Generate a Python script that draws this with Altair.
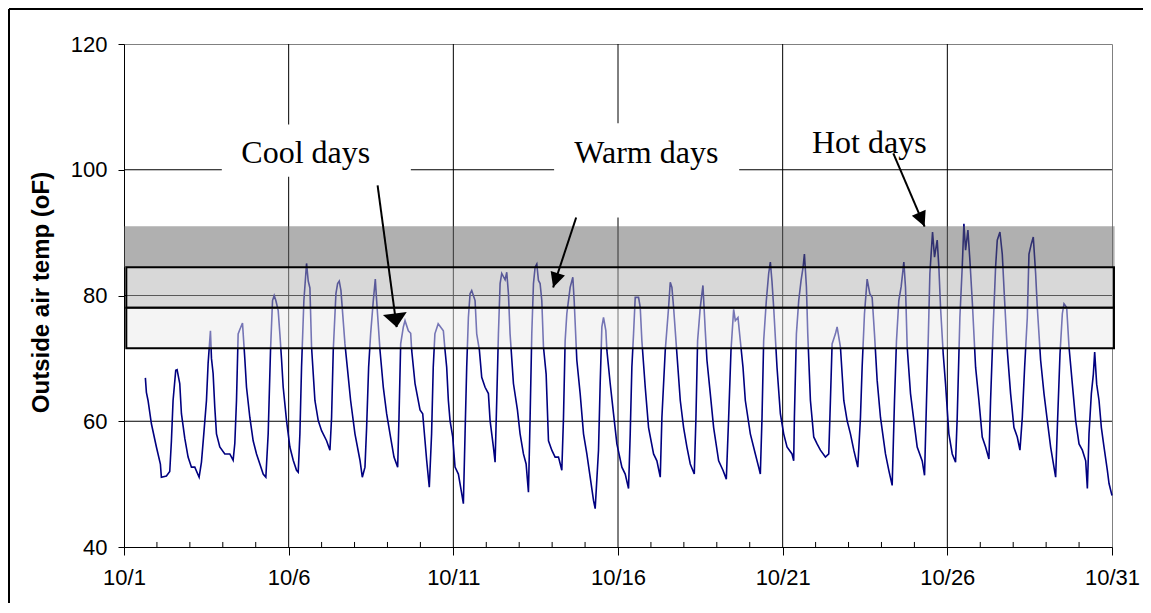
import altair as alt
import pandas as pd

# ---- outside air temperature series (day of October, deg F) ----
day = [
    1.649, 1.680, 1.730, 1.832, 1.984, 2.105, 2.135, 2.288, 2.389, 2.440, 2.490, 2.571, 2.612,
    2.693, 2.744, 2.845, 2.946, 3.048, 3.149, 3.281,
    3.352, 3.423, 3.504, 3.554, 3.625, 3.656, 3.706, 3.757, 3.808, 3.909, 4.061, 4.213, 4.314,
    4.365, 4.416, 4.466, 4.517, 4.598, 4.639, 4.669, 4.720, 4.821, 4.922, 5.024, 5.125, 5.226, 5.307,
    5.378, 5.449, 5.510, 5.560, 5.611, 5.682, 5.733, 5.783, 5.834, 5.935, 6.037, 6.138, 6.239, 6.290,
    6.341, 6.391, 6.462, 6.513, 6.543, 6.594, 6.645, 6.695, 6.797, 6.898, 6.999, 7.151, 7.253,
    7.303, 7.354, 7.435, 7.486, 7.536, 7.587, 7.709, 7.780, 7.881, 8.013, 8.165, 8.236,
    8.317, 8.367, 8.428, 8.489, 8.570, 8.631, 8.671, 8.773, 8.874, 8.975, 9.077, 9.198, 9.310,
    9.350, 9.401, 9.482, 9.533, 9.634, 9.705, 9.735, 9.837, 9.989, 10.07, 10.14, 10.19, 10.27,
    10.34, 10.39, 10.44, 10.54, 10.697, 10.748, 10.798, 10.849, 10.900, 10.981, 11.052, 11.153, 11.255, 11.305,
    11.356, 11.406, 11.457, 11.508, 11.558, 11.660, 11.710, 11.791, 11.862, 11.964, 12.065, 12.116, 12.217, 12.268,
    12.318, 12.369, 12.420, 12.470, 12.572, 12.622, 12.673, 12.723, 12.825, 12.946, 13.027, 13.129, 13.210, 13.281,
    13.331, 13.382, 13.433, 13.483, 13.534, 13.585, 13.635, 13.686, 13.737, 13.818, 13.889, 13.990, 14.091, 14.193, 14.294,
    14.345, 14.395, 14.446, 14.547, 14.628, 14.669, 14.750, 14.851, 14.953, 15.054, 15.155, 15.256, 15.307,
    15.408, 15.459, 15.510, 15.560, 15.631, 15.662, 15.763, 15.864, 15.966, 16.118, 16.219, 16.320,
    16.371, 16.421, 16.472, 16.523, 16.624, 16.675, 16.725, 16.827, 16.928, 17.080, 17.181, 17.283,
    17.333, 17.435, 17.536, 17.587, 17.637, 17.688, 17.789, 17.891, 17.992, 18.093, 18.194, 18.316,
    18.367, 18.417, 18.498, 18.579, 18.650, 18.701, 18.802, 18.904, 19.056, 19.187, 19.289,
    19.360, 19.431, 19.512, 19.562, 19.643, 19.714, 19.795, 19.866, 20.018, 20.170, 20.271, 20.322,
    20.373, 20.423, 20.504, 20.575, 20.626, 20.676, 20.727, 20.828, 20.930, 21.031, 21.132, 21.284, 21.335,
    21.356, 21.417, 21.488, 21.559, 21.620, 21.660, 21.721, 21.762, 21.843, 21.944, 22.045, 22.146, 22.298, 22.400,
    22.450, 22.501, 22.602, 22.653, 22.754, 22.856, 22.957, 23.058, 23.160, 23.281,
    23.362, 23.413, 23.484, 23.565, 23.646, 23.717, 23.788, 23.869, 23.970, 24.122, 24.223, 24.325,
    24.396, 24.456, 24.527, 24.598, 24.679, 24.730, 24.781, 24.882, 24.983, 25.085, 25.237, 25.308,
    25.368, 25.419, 25.470, 25.551, 25.611, 25.692, 25.743, 25.794, 25.875, 25.946, 26.047, 26.149, 26.250,
    26.300, 26.381, 26.452, 26.503, 26.554, 26.625, 26.685, 26.756, 26.858, 26.959, 27.060, 27.162, 27.263,
    27.313, 27.384, 27.465, 27.516, 27.597, 27.668, 27.739, 27.820, 27.921, 28.023, 28.124, 28.205,
    28.276, 28.347, 28.428, 28.479, 28.550, 28.610, 28.681, 28.732, 28.833, 28.935, 29.036, 29.137, 29.238, 29.289,
    29.340, 29.421, 29.492, 29.543, 29.624, 29.695, 29.796, 29.897, 29.999, 30.100, 30.201, 30.252,
    30.302, 30.373, 30.434, 30.474, 30.535, 30.606, 30.677, 30.758, 30.859, 30.910, 31.0,
]
temp_f = [
    66.9, 64.6, 63.3, 59.6, 55.9, 53.2, 51.1, 51.3, 52.0, 56.9, 63.3, 68.1, 68.2,
    66.0, 61.2, 57.3, 54.3, 52.7, 52.7, 51.1,
    53.5, 58.0, 63.3, 69.2, 74.4, 70.0, 67.6, 62.2, 58.0, 55.9, 54.8, 54.8, 53.8,
    56.5, 63.3, 73.9, 74.6, 75.6, 72.3, 69.9, 65.4, 60.6, 56.9, 54.8, 53.2, 51.6, 51.1,
    58.0, 71.3, 79.2, 80.0, 79.2, 77.6, 73.9, 69.9, 65.4, 60.1, 55.9, 53.8, 52.2, 51.9,
    58.0, 68.6, 79.2, 82.9, 85.1, 82.3, 81.2, 71.8, 63.3, 60.1, 58.5, 56.9, 55.4,
    60.6, 71.3, 80.3, 81.9, 82.3, 80.8, 72.3, 68.6, 63.3, 58.0, 53.8, 51.1,
    52.7, 59.0, 68.6, 73.9, 79.2, 82.6, 79.2, 71.3, 65.4, 61.2, 58.0, 54.3, 52.7,
    60.6, 72.3, 75.0, 76.0, 74.4, 74.0, 71.3, 66.0, 61.8, 61.2, 56.9, 53.8, 49.5,
    58.0, 68.6, 73.9, 75.5, 74.4, 71.3, 68.6, 63.3, 60.1, 57.5, 52.7, 51.6, 48.5, 46.9,
    58.0, 68.6, 76.5, 80.3, 80.8, 79.2, 73.9, 71.3, 67.0, 65.4, 64.4, 60.1, 55.9, 53.5,
    63.3, 73.9, 81.9, 83.5, 82.5, 83.7, 80.3, 73.9, 66.0, 61.8, 58.0, 54.8, 53.2, 48.7,
    60.6, 73.9, 81.9, 84.5, 85.0, 82.4, 81.9, 79.2, 71.8, 67.5, 56.9, 55.4, 54.3, 54.3, 52.2,
    60.6, 72.8, 77.1, 81.3, 82.9, 79.2, 69.7, 64.4, 58.0, 54.8, 51.1, 47.4, 46.1,
    55.4, 66.0, 75.0, 76.5, 74.4, 71.3, 66.0, 61.2, 56.4, 52.7, 51.6, 49.3,
    58.0, 68.6, 73.9, 79.7, 79.7, 78.1, 72.8, 65.4, 59.0, 54.8, 53.7, 51.1,
    60.6, 71.3, 78.1, 82.1, 81.3, 78.1, 70.7, 63.3, 59.0, 55.9, 53.2, 51.6,
    60.6, 72.8, 78.1, 81.6, 74.4, 69.7, 64.4, 59.0, 53.7, 52.2, 50.8,
    60.6, 71.3, 77.8, 76.0, 76.5, 72.8, 68.6, 63.3, 58.0, 54.8, 52.7, 51.6,
    60.6, 72.8, 79.2, 83.5, 85.3, 82.2, 78.1, 68.6, 61.2, 58.0, 55.9, 54.8, 53.7,
    60.6, 73.9, 79.2, 82.4, 84.5, 86.6, 81.4, 73.9, 63.3, 57.5, 56.4, 55.4, 54.3, 54.8,
    63.3, 72.3, 73.9, 75.0, 71.8, 63.3, 60.1, 58.0, 55.4, 52.7,
    60.6, 68.6, 77.1, 82.6, 80.3, 79.7, 73.9, 66.5, 60.6, 54.8, 52.2, 49.8,
    63.3, 72.8, 79.2, 81.4, 85.3, 81.3, 71.8, 64.4, 60.1, 55.9, 53.7, 51.4,
    63.3, 72.8, 83.5, 90.1, 86.1, 88.8, 84.5, 78.1, 70.7, 65.9, 58.0, 54.8, 53.5,
    60.6, 76.5, 84.5, 91.4, 87.2, 90.4, 85.6, 79.2, 68.6, 63.3, 57.5, 55.9, 54.0,
    63.3, 73.9, 84.5, 88.8, 90.1, 86.6, 79.2, 71.3, 64.4, 59.0, 57.5, 55.4,
    60.6, 68.6, 76.5, 86.6, 88.2, 89.3, 83.5, 78.1, 69.7, 64.4, 60.1, 55.9, 52.7, 51.1,
    59.0, 70.7, 77.1, 78.7, 78.1, 71.8, 65.9, 60.1, 56.4, 55.4, 53.7, 49.3,
    58.0, 64.4, 67.5, 71.0, 65.9, 63.3, 59.0, 55.9, 52.2, 50.1, 48.2,
]

# ---- axes ----
x_ticks = [1, 6, 11, 16, 21, 26, 31]
y_ticks = [40, 60, 80, 100, 120]
grid_x = [6, 11, 16, 21, 26]
grid_y = [60, 80, 100]
minor_days = [d for d in range(2, 31) if (d - 1) % 5 != 0]

# ---- comfort bands ----
band_x0 = [1.0, 1.07, 1.07]
band_x1 = [31.08, 31.06, 31.06]
band_lo = [84.5, 78.04, 71.6]
band_hi = [91.0, 84.5, 78.04]
band_fill = ["#616161", "#b1b1b1", "#e9e9e9"]
band_outlined = [False, True, True]

# ---- annotations ----
label_text = ["Cool days", "Warm days", "Hot days"]
label_x = [6.52, 16.86, 23.63]
label_y = [101.0, 101.0, 102.6]
labelbox_x0 = [3.97, 14.06]
labelbox_x1 = [9.71, 19.68]
labelbox_lo = [98.9, 92.4]
labelbox_hi = [107.2, 107.4]
arrow_x0 = [8.70, 14.73, 24.36]
arrow_y0 = [97.5, 92.4, 102.6]
arrow_x1 = [9.28, 14.03, 25.31]
arrow_y1 = [74.96, 81.27, 90.97]
arrow_angle = [352.4, 18.2, 337.0]

xs = alt.Scale(domain=[1, 31], nice=False, zero=False)
ys = alt.Scale(domain=[40, 120], nice=False, zero=False)
ax_x = alt.Axis(values=x_ticks, labelExpr="'10/' + datum.value", grid=False,
                tickSize=8, labelPadding=12, labelFlush=False, title=None)
ax_y = alt.Axis(values=y_ticks, grid=False, tickSize=6, labelPadding=11,
                title="Outside air temp (oF)", titleFont="Liberation Sans",
                titleFontSize=24, titleFontWeight="bold", titleColor="black",
                titleAngle=270, titleBaseline="bottom", titleAlign="center",
                titleX=-71, titleY=248)


def X(f):
    return alt.X(f, scale=xs, axis=ax_x)


def Y(f):
    return alt.Y(f, scale=ys, axis=ax_y)


series = pd.DataFrame({"day": day, "temp": temp_f})
gx = pd.DataFrame({"x": grid_x, "lo": [40] * len(grid_x), "hi": [120] * len(grid_x)})
gy = pd.DataFrame({"y": grid_y, "lo": [1] * len(grid_y), "hi": [31] * len(grid_y)})
mt = pd.DataFrame({"x": minor_days, "lo": [40] * len(minor_days), "hi": [40.8] * len(minor_days)})
bands = pd.DataFrame({"x0": band_x0, "x1": band_x1, "lo": band_lo, "hi": band_hi,
                      "fill": band_fill, "outlined": band_outlined})
lboxes = pd.DataFrame({"x0": labelbox_x0, "x1": labelbox_x1, "lo": labelbox_lo, "hi": labelbox_hi})
labels = pd.DataFrame({"t": label_text, "x": label_x, "y": label_y})
arrows = pd.DataFrame({"x0": arrow_x0, "y0": arrow_y0, "x1": arrow_x1, "y1": arrow_y1,
                       "ang": arrow_angle})

grid_v = alt.Chart(gx).mark_rule(color="black", strokeWidth=1).encode(
    x=X("x:Q"), y=Y("lo:Q"), y2="hi:Q")
grid_h = alt.Chart(gy).mark_rule(color="black", strokeWidth=1).encode(
    y=Y("y:Q"), x=X("lo:Q"), x2="hi:Q")
minor = alt.Chart(mt).mark_rule(color="black", strokeWidth=1).encode(
    x=X("x:Q"), y=Y("lo:Q"), y2="hi:Q")

line = alt.Chart(series).mark_line(color="#000080", strokeWidth=1.6).encode(
    x=X("day:Q"), y=Y("temp:Q"))

dark = alt.Chart(bands).transform_filter("!datum.outlined").mark_rect(
    fillOpacity=0.5, strokeWidth=0).encode(
    x=X("x0:Q"), x2="x1:Q", y=Y("lo:Q"), y2="hi:Q",
    fill=alt.Fill("fill:N", scale=None))
boxes = alt.Chart(bands).transform_filter("datum.outlined").mark_rect(
    fillOpacity=0.5, stroke="black", strokeWidth=2, strokeOpacity=1).encode(
    x=X("x0:Q"), x2="x1:Q", y=Y("lo:Q"), y2="hi:Q",
    fill=alt.Fill("fill:N", scale=None))

whites = alt.Chart(lboxes).mark_rect(color="white").encode(
    x=X("x0:Q"), x2="x1:Q", y=Y("lo:Q"), y2="hi:Q")

texts = alt.Chart(labels).mark_text(font="Liberation Serif", fontSize=32, color="black",
                                    align="center", baseline="alphabetic").encode(
    x=X("x:Q"), y=Y("y:Q"), text="t:N")

shafts = alt.Chart(arrows).mark_rule(color="black", strokeWidth=2).encode(
    x=X("x0:Q"), y=Y("y0:Q"), x2="x1:Q", y2="y1:Q")

head_wide = alt.Chart(arrows.iloc[[0]]).mark_point(
    shape="M -1 -1.15 L 1 -1.15 L 0 0 Z", filled=True, color="black", opacity=1,
    size=576, strokeWidth=0).encode(
    x=X("x1:Q"), y=Y("y1:Q"), angle=alt.Angle("ang:Q", scale=None))
head_narrow = alt.Chart(arrows.iloc[[1, 2]]).mark_point(
    shape="M -1 -2 L 1 -2 L 0 0 Z", filled=True, color="black", opacity=1,
    size=225, strokeWidth=0).encode(
    x=X("x1:Q"), y=Y("y1:Q"), angle=alt.Angle("ang:Q", scale=None))

one = pd.DataFrame({"a": [0]})
frame_top = alt.Chart(one).mark_rule(color="black", strokeWidth=2).encode(
    x=alt.value(-115), x2=alt.value(1019), y=alt.value(-35))
frame_left = alt.Chart(one).mark_rule(color="black", strokeWidth=2).encode(
    x=alt.value(-115), y=alt.value(-35), y2=alt.value(559))

chart = alt.layer(
    grid_v, grid_h, minor, line, dark, boxes, whites, texts, shafts, head_wide, head_narrow,
    frame_top, frame_left,
).properties(
    width=988, height=503,
    padding={"left": 116, "top": 36, "right": 31, "bottom": 56},
    autosize=alt.AutoSizeParams(type="none"),
).configure_view(
    stroke="#808080", strokeWidth=1
).configure_axis(
    labelFont="Liberation Sans", labelFontSize=22, labelColor="black",
    domainColor="black", tickColor="black", domainWidth=1, tickWidth=1,
)

chart.save("out.html", embed_options={"renderer": "svg", "actions": False})
